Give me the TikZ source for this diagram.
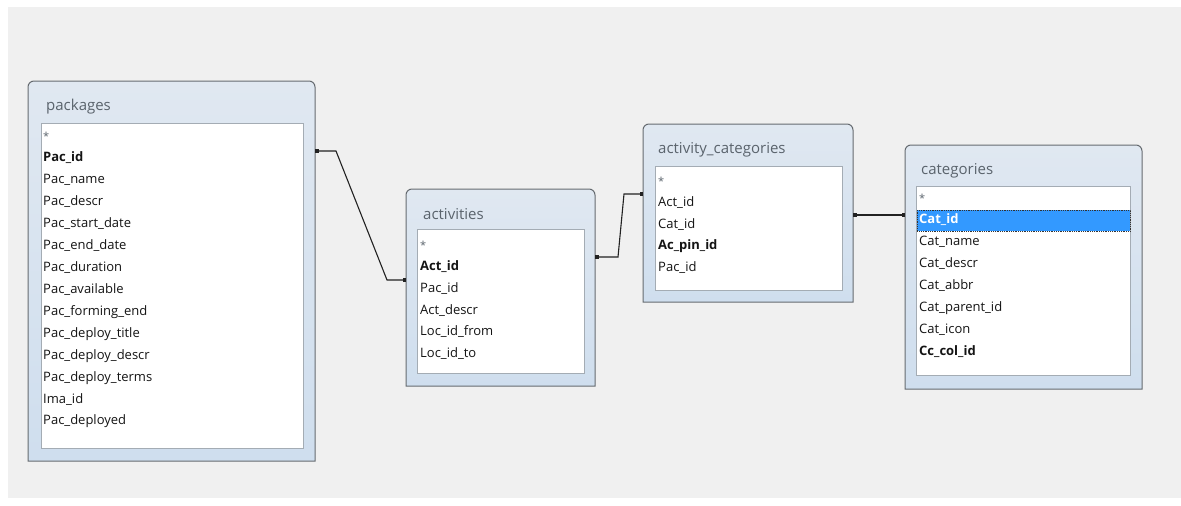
\documentclass[tikz,border=0pt]{standalone}
\usepackage{fontspec}
\setmainfont{Open Sans}
\usetikzlibrary{arrows.meta}
\definecolor{bggray}{HTML}{F0F0F0}
\definecolor{boxline}{HTML}{666B70}
\definecolor{boxtop}{HTML}{E0E8F1}
\definecolor{boxbot}{HTML}{CFDEEE}
\definecolor{listline}{HTML}{A4ACB4}
\definecolor{titlecol}{HTML}{5A636C}
\definecolor{rowcol}{HTML}{141414}
\definecolor{conncol}{HTML}{222222}
\definecolor{selblue}{HTML}{3399FF}
\newcommand{\dbbox}[1]{%
  \path[draw=boxline, line width=1pt, top color=boxtop, bottom color=boxbot]
    (#1.south west) -- ([yshift=-6pt]#1.north west)
    arc[start angle=180, end angle=90, radius=6pt]
    -- ([xshift=-6pt]#1.north east)
    arc[start angle=90, end angle=0, radius=6pt]
    -- (#1.south east) -- cycle;}
\tikzset{
  tbl/.style={anchor=north west, inner sep=0pt, outer sep=0pt},
  listbox/.style={anchor=north west, inner sep=0pt, outer sep=0pt, fill=white, draw=listline, line width=0.8pt},
  ttl/.style={anchor=west, inner sep=0pt, font=\fontsize{15}{15}\selectfont, text=titlecol},
  row/.style={anchor=west, inner sep=0pt, font=\fontsize{13}{13}\selectfont, text=rowcol, text height=10pt, text depth=3pt},
  keyrow/.style={row, font=\fontsize{13}{13}\selectfont\bfseries},
  star/.style={row, text=titlecol, font=\fontsize{11}{11}\selectfont},
  conn/.style={draw=conncol, line width=1.1pt, {Square[length=3.5pt,width=3.5pt]}-{Square[length=3.5pt,width=3.5pt]}},
}
\begin{document}
\begin{tikzpicture}[x=1pt,y=1pt]
\useasboundingbox (0,0) rectangle (1181,-506);
\fill[white] (0,0) rectangle (1181,-506);
\fill[bggray] (8,-7) rectangle (1181,-498);

% ---------- packages ----------
\node[tbl, minimum width=287pt, minimum height=380pt] (packages) at (28,-81) {};
\dbbox{packages}
\node[listbox, minimum width=262pt, minimum height=325pt] (packages-list) at (41,-123) {};
\node[ttl] (packages-title) at (46,-107) {packages};
\node[star]   (pk0)  at (43,-137) {*};
\node[keyrow] (pk1)  at (43,-158) {Pac\_id};
\node[row]    (pk2)  at (43,-180) {Pac\_name};
\node[row]    (pk3)  at (43,-202) {Pac\_descr};
\node[row]    (pk4)  at (43,-224) {Pac\_start\_date};
\node[row]    (pk5)  at (43,-246) {Pac\_end\_date};
\node[row]    (pk6)  at (43,-268) {Pac\_duration};
\node[row]    (pk7)  at (43,-290) {Pac\_available};
\node[row]    (pk8)  at (43,-312) {Pac\_forming\_end};
\node[row]    (pk9)  at (43,-334) {Pac\_deploy\_title};
\node[row]    (pk10) at (43,-356) {Pac\_deploy\_descr};
\node[row]    (pk11) at (43,-378) {Pac\_deploy\_terms};
\node[row]    (pk12) at (43,-400) {Ima\_id};
\node[row]    (pk13) at (43,-421) {Pac\_deployed};

% ---------- activities ----------
\node[tbl, minimum width=189pt, minimum height=197pt] (activities) at (406,-189) {};
\dbbox{activities}
\node[listbox, minimum width=167pt, minimum height=144pt] (activities-list) at (417,-229) {};
\node[ttl] (activities-title) at (423,-214) {activities};
\node[star]   (ac0) at (420,-246) {*};
\node[keyrow] (ac1) at (420,-267) {Act\_id};
\node[row]    (ac2) at (420,-289) {Pac\_id};
\node[row]    (ac3) at (420,-311) {Act\_descr};
\node[row]    (ac4) at (420,-332) {Loc\_id\_from};
\node[row]    (ac5) at (420,-354) {Loc\_id\_to};

% ---------- activity_categories ----------
\node[tbl, minimum width=210pt, minimum height=178pt] (actcat) at (643,-124) {};
\dbbox{actcat}
\node[listbox, minimum width=187pt, minimum height=124pt] (actcat-list) at (655,-166) {};
\node[ttl] (actcat-title) at (658,-150) {activity\_categories};
\node[star]   (acc0) at (658,-182) {*};
\node[row]    (acc1) at (658,-203) {Act\_id};
\node[row]    (acc2) at (658,-225) {Cat\_id};
\node[keyrow] (acc3) at (658,-246) {Ac\_pin\_id};
\node[row]    (acc4) at (658,-268) {Pac\_id};

% ---------- categories ----------
\node[tbl, minimum width=237pt, minimum height=244pt] (categories) at (905,-145) {};
\dbbox{categories}
\node[listbox, minimum width=214pt, minimum height=189pt] (categories-list) at (916,-186) {};
\node[ttl] (categories-title) at (921,-171) {categories};
\node[star]   (ct0) at (919,-199) {*};
\node[anchor=north west, inner sep=0pt, minimum width=213pt, minimum height=21pt, fill=selblue, draw=black!80, densely dotted, line width=0.8pt] (selbar) at (917,-210) {};
\node[keyrow, text=white] (ct1) at (919,-220) {Cat\_id};
\node[row]    (ct2) at (919,-242) {Cat\_name};
\node[row]    (ct3) at (919,-264) {Cat\_descr};
\node[row]    (ct4) at (919,-286) {Cat\_abbr};
\node[row]    (ct5) at (919,-308) {Cat\_parent\_id};
\node[row]    (ct6) at (919,-330) {Cat\_icon};
\node[keyrow] (ct7) at (919,-352) {Cc\_col\_id};

% ---------- connectors ----------
\coordinate (c1s) at ([yshift=-70pt]packages.north east);
\coordinate (c1e) at ([yshift=-91pt]activities.north west);
\draw[conn] (c1s) -- ++(21,0) -- ([xshift=-19pt]c1e) -- (c1e);

\coordinate (c2s) at ([yshift=-68pt]activities.north east);
\coordinate (c2e) at ([yshift=-70pt]actcat.north west);
\draw[conn] (c2s) -- ++(23,0) -- ([xshift=-19pt]c2e) -- (c2e);

\coordinate (c3s) at ([yshift=-91pt]actcat.north east);
\coordinate (c3e) at ([yshift=-70pt]categories.north west);
\draw[conn] (c3s) -- (c3e);
\end{tikzpicture}
\end{document}
